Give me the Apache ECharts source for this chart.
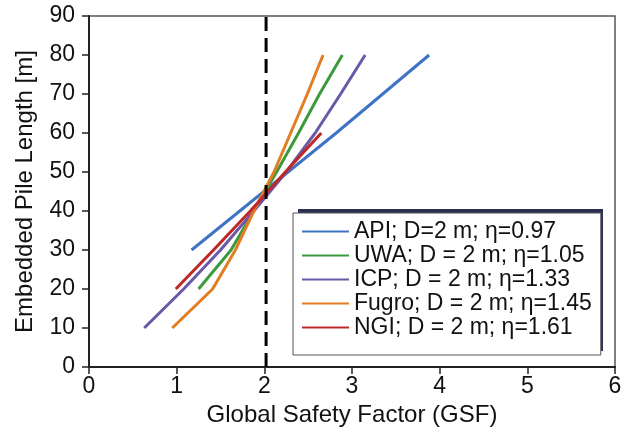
<!DOCTYPE html>
<html>
<head>
<meta charset="utf-8">
<script src="https://cdn.jsdelivr.net/npm/echarts@6/dist/echarts.min.js"></script>
<style>html,body{margin:0;padding:0;background:#fff}#c{width:635px;height:436px}</style>
</head>
<body>
<div id="c"></div>
<script>
var names = ['API; D=2 m; \u03b7=0.97','UWA; D = 2 m; \u03b7=1.05','ICP; D = 2 m; \u03b7=1.33','Fugro; D = 2 m; \u03b7=1.45','NGI; D = 2 m; \u03b7=1.61'];
var apiDepth = [30,40,50,60,70,80];
var apiGSF   = [1.17,1.72,2.27,2.82,3.35,3.88];
var uwaDepth = [20,30,40,50,60,70,80];
var uwaGSF   = [1.25,1.62,1.88,2.14,2.39,2.63,2.89];
var icpDepth = [10,20,30,40,50,60,70,80];
var icpGSF   = [0.63,1.08,1.50,1.88,2.25,2.58,2.87,3.15];
var fugroDepth = [10,20,30,40,50,60,70,80];
var fugroGSF   = [0.95,1.41,1.67,1.88,2.11,2.30,2.49,2.67];
var ngiDepth = [20,30,40,50,60];
var ngiGSF   = [0.99,1.42,1.84,2.24,2.65];
var targetGSF = [2.02,2.02];
var targetDepth = [0,90];
var xTicks = [0,1,2,3,4,5,6];
var yTicks = [0,10,20,30,40,50,60,70,80,90];

var colors = ['#3f74c4','#3c9a3c','#6b58a6','#e27d22','#c02828'];
function pairs(x,y){return x.map(function(v,i){return [v,y[i]];});}
var sets = [[apiGSF,apiDepth],[uwaGSF,uwaDepth],[icpGSF,icpDepth],[fugroGSF,fugroDepth],[ngiGSF,ngiDepth]];
var series = sets.map(function(s,i){
  return {name:names[i], type:'line', data:pairs(s[0],s[1]), showSymbol:false, symbol:'none',
    lineStyle:{color:colors[i], width:3}, itemStyle:{color:colors[i]}, z:3+i};
});
series.push({name:'target', type:'line', data:pairs(targetGSF,targetDepth), showSymbol:false, symbol:'none',
  lineStyle:{color:'#000', width:3, type:[14,7]}, z:10, silent:true});
var font = 'Liberation Sans, Arial, sans-serif';
var chart = echarts.init(document.getElementById('c'), null, {renderer:'canvas'});
chart.setOption({
  animation:false,
  grid:{left:89, right:20, top:16, bottom:69, show:true, borderColor:'#555', borderWidth:1.5, backgroundColor:'transparent'},
  graphic:[{type:'rect', left:298, top:209, shape:{width:305, height:142}, style:{fill:'#2b3050'}, z:50, silent:true}],
  legend:{data:names, orient:'vertical', left:293, top:213, itemWidth:47, itemHeight:14, itemGap:1, z:60,
    icon:'path://M0,6 L47,6 L47,8 L0,8 Z',
    padding:[7,9,16,9], backgroundColor:'#fff', borderColor:'#555', borderWidth:1,
    textStyle:{fontFamily:font, fontSize:23, color:'#111'}},
  xAxis:{type:'value', min:xTicks[0], max:xTicks[xTicks.length-1], interval:1,
    name:'Global Safety Factor (GSF)', nameLocation:'middle', nameGap:33,
    nameTextStyle:{fontFamily:font, fontSize:24, color:'#111'},
    axisLine:{show:true, lineStyle:{color:'#222', width:2}},
    axisTick:{show:true, length:7, lineStyle:{color:'#222', width:1.5}},
    axisLabel:{fontFamily:font, fontSize:23, color:'#111', margin:8},
    splitLine:{show:false}},
  yAxis:{type:'value', min:yTicks[0], max:yTicks[yTicks.length-1], interval:10,
    name:'Embedded Pile Length [m]', nameLocation:'middle', nameGap:52,
    nameTextStyle:{fontFamily:font, fontSize:24, color:'#111'},
    axisLine:{show:true, lineStyle:{color:'#222', width:2}},
    axisTick:{show:true, length:7, lineStyle:{color:'#222', width:1.5}},
    axisLabel:{fontFamily:font, fontSize:23, color:'#111', margin:14},
    splitLine:{show:false}},
  series:series
});
</script>
</body>
</html>
